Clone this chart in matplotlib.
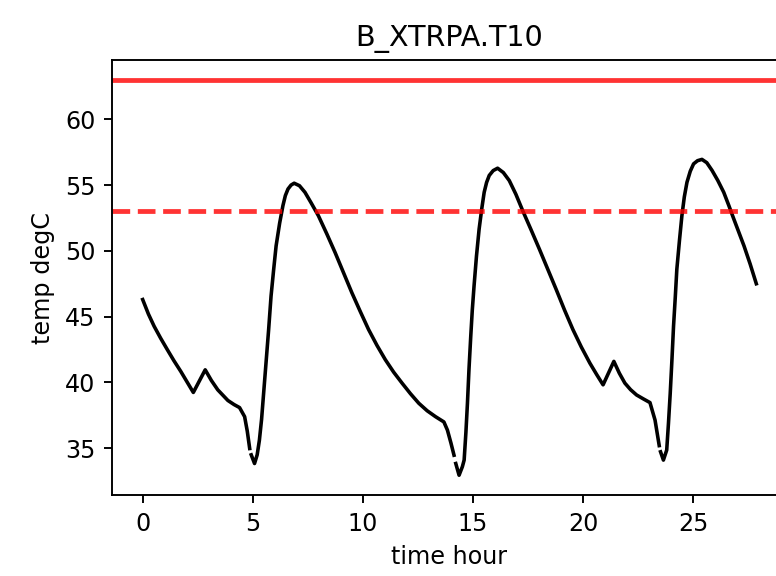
import numpy as np
import matplotlib.pyplot as plt

nan = np.nan

# time [hour] and temperature [degC], NaN marks the small breaks
time_hour = [0.0, 0.26, 0.52, 0.82, 1.12, 1.42, 1.73, 2.02, 2.30, 2.57, 2.84, 3.12,
             3.41, 3.87, 4.15, 4.40, 4.63, 4.75, 4.86, nan,
             4.93, 5.08, 5.20, 5.30, 5.40, 5.50, 5.60, 5.72, 5.83, 5.95, 6.06, 6.22, 6.37,
             6.48, 6.60, 6.74, 6.88, 7.12, 7.37, 7.65, 7.98, 8.36, 8.74, 9.12, 9.50, 9.88,
             10.26, 10.64, 11.02, 11.40, 11.78, 12.16, 12.54, 12.92, 13.30, 13.68, 13.84,
             14.00, 14.14, nan,
             14.22, 14.37, 14.52, 14.60, 14.68, 14.75, 14.82, 14.90, 14.97, 15.05,
             15.16, 15.28, 15.40, 15.51, 15.62, 15.74, 15.92, 16.12, 16.38, 16.65,
             16.95, 17.26, 17.64, 18.02, 18.40, 18.78, 19.16, 19.54, 19.92, 20.31,
             20.62, 20.91, 21.15, 21.40, 21.65, 21.90, 22.16, 22.43, 22.74, 23.04,
             23.27, 23.46, nan,
             23.52, 23.65, 23.80, 23.88, 23.96, 24.04, 24.11, 24.19, 24.26, 24.38,
             24.49, 24.60, 24.72, 24.87, 25.02, 25.20, 25.40, 25.62, 25.86, 26.12,
             26.39, 26.62, 26.85, 27.08, 27.31, 27.59, 27.87]

temp_degC = [46.3, 45.2, 44.27, 43.35, 42.49, 41.65, 40.84, 40.02, 39.24, 40.1, 40.96, 40.15,
             39.44, 38.63, 38.32, 38.09, 37.4, 36.3, 34.98, nan,
             34.5, 33.84, 34.5, 35.6, 37.2, 39.3, 41.47, 44.0, 46.56, 48.6, 50.38, 52.1, 53.44,
             54.2, 54.7, 55.0, 55.14, 54.95, 54.45, 53.65, 52.67, 51.3, 49.87, 48.35, 46.82,
             45.4, 44.02, 42.82, 41.73, 40.78, 39.95, 39.15, 38.42, 37.85, 37.4, 37.0, 36.38,
             35.4, 34.47, nan,
             33.84, 32.95, 33.6, 34.1, 36.2, 38.42, 41.0, 43.5, 45.5, 47.33,
             49.6, 51.65, 53.2, 54.45, 55.2, 55.73, 56.1, 56.28, 55.95, 55.34,
             54.3, 53.05, 51.6, 50.12, 48.6, 47.07, 45.5, 44.02, 42.7, 41.47,
             40.6, 39.82, 40.7, 41.6, 40.7, 39.95, 39.45, 39.05, 38.75, 38.47,
             37.14, 35.2, nan,
             34.73, 34.1, 34.86, 36.9, 39.18, 41.8, 44.27, 46.5, 48.6, 50.8,
             52.67, 54.1, 55.21, 56.05, 56.61, 56.85, 56.95, 56.7, 56.11, 55.35,
             54.45, 53.45, 52.41, 51.4, 50.38, 49.0, 47.5]

# the two limit lines
limit_high = 63.0
limit_warn = 53.0

fig = plt.figure(figsize=(777 / 172, 576 / 172), dpi=172)
# axes run past the right edge of the picture, as in the reference crop
ax = fig.add_axes([112 / 777, 81 / 576, 675 / 777, 435 / 576])

ax.plot(time_hour, temp_degC, color='black', lw=1.5)
ax.axhline(limit_high, color='red', lw=2, alpha=0.8)
ax.axhline(limit_warn, color='red', lw=2, ls='--', alpha=0.8)

ax.set_title('B_XTRPA.T10')
ax.set_xlabel('time hour')
ax.set_ylabel('temp degC')

fig.savefig('out.png', dpi=172)
